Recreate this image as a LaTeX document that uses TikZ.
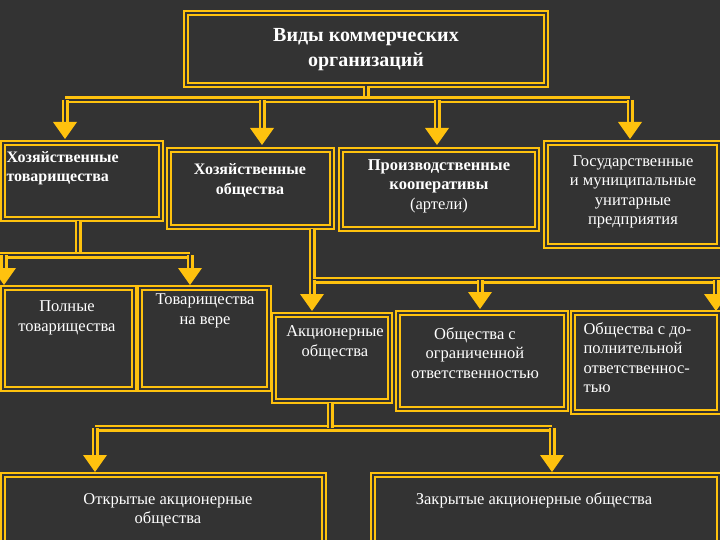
\documentclass[tikz,border=0pt]{standalone}
\usepackage{fontspec}
\setmainfont{Liberation Serif}
\begin{document}
\definecolor{bg}{HTML}{333333}
\definecolor{yl}{HTML}{FFC20E}
\begin{tikzpicture}[x=1pt,y=-1pt,
 box/.style={draw=yl,line width=2pt,double=bg,double distance=2.2pt,fill=bg,anchor=north west},
 lbl/.style={text=white,align=center,font=\fontsize{16.5}{19.5}\selectfont},
 shaft/.style={draw=yl,line width=2.8pt,double=bg,double distance=1.4pt}]
\fill[bg] (0,0) rectangle (720,540);
\useasboundingbox (0,0) rectangle (720,540);
% boxes
\node[box,minimum width=360pt,minimum height=72pt] (t) at (185,12) {};
\node[lbl,font=\fontsize{20}{25}\selectfont\bfseries] (tt) at (366,50) {Виды коммерческих\\организаций};
\node[box,minimum width=158pt,minimum height=76pt] (ht) at (2,142) {};
\node[lbl,anchor=north west,font=\fontsize{16}{19}\selectfont\bfseries,align=left] (htl) at (3,148) {Хозяйственные\\товарищества};
\node[box,minimum width=163pt,minimum height=77pt] (ho) at (168,149) {};
\node[lbl,font=\fontsize{16}{20}\selectfont\bfseries] (hol) at (250,180) {Хозяйственные\\общества};
\node[box,minimum width=196pt,minimum height=79pt] (pk) at (340,149) {};
\node[lbl] (pkl) at (439,186) {\textbf{Производственные}\\\textbf{кооперативы}\\(артели)};
\node[box,minimum width=173pt,minimum height=103pt] (gu) at (545,142) {};
\node[lbl] (gul) at (633,192) {Государственные\\и муниципальные\\унитарные\\предприятия};
\node[box,minimum width=131pt,minimum height=101pt] (pt) at (2,287) {};
\node[lbl] (ptl) at (67,318) {Полные\\товарищества};
\node[box,minimum width=129pt,minimum height=101pt] (tv) at (139,287) {};
\node[lbl] (tvl) at (205,311) {Товарищества\\на вере};
\node[box,minimum width=116pt,minimum height=86pt] (ao) at (273,314) {};
\node[lbl] (aol) at (335,343) {Акционерные\\общества};
\node[box,minimum width=168pt,minimum height=96pt] (oo) at (397,312) {};
\node[lbl] (ool) at (475,353) {Общества с\\ограниченной\\ответственностью};
\node[box,minimum width=146pt,minimum height=99pt] (od) at (572,312) {};
\node[lbl,align=left,anchor=north west] (odl) at (580,319) {Общества с до-\\полнительной\\ответственнос-\\тью};
\node[box,minimum width=321pt,minimum height=70pt] (oa) at (2,474) {};
\node[lbl] (oal) at (168,510) {Открытые акционерные\\общества};
\node[box,minimum width=346pt,minimum height=70pt] (za) at (372,474) {};
\node[lbl] (zal) at (534,500) {Закрытые акционерные общества};
% connectors
\draw[shaft] (t.south) -- (366,100);
\draw[shaft] (65,100) -- (630,100);
\foreach \x/\y in {65/122,262/128,437/128,630/122}{
 \draw[shaft] (\x,100) -- (\x,\y);
 \fill[yl] (\x-12,\y) -- (\x+12,\y) -- (\x,\y+17) -- cycle;}
\draw[shaft] (78,221) -- (78,255);
\draw[shaft] (0,255) -- (190,255);
\foreach \x in {4,190}{
 \draw[shaft] (\x,255) -- (\x,268);
 \fill[yl] (\x-12,268) -- (\x+12,268) -- (\x,285) -- cycle;}
\draw[shaft] (312,229) -- (312,280) -- (720,280);
\foreach \x/\y in {312/294,480/292,716/294}{
 \draw[shaft] (\x,280) -- (\x,\y);
 \fill[yl] (\x-12,\y) -- (\x+12,\y) -- (\x,\y+17) -- cycle;}
\draw[shaft] (95,428) -- (552,428);
\draw[shaft] (330,403) -- (330,428);
\foreach \x in {95,552}{
 \draw[shaft] (\x,428) -- (\x,455);
 \fill[yl] (\x-12,455) -- (\x+12,455) -- (\x,472) -- cycle;}
\end{tikzpicture}
\end{document}
